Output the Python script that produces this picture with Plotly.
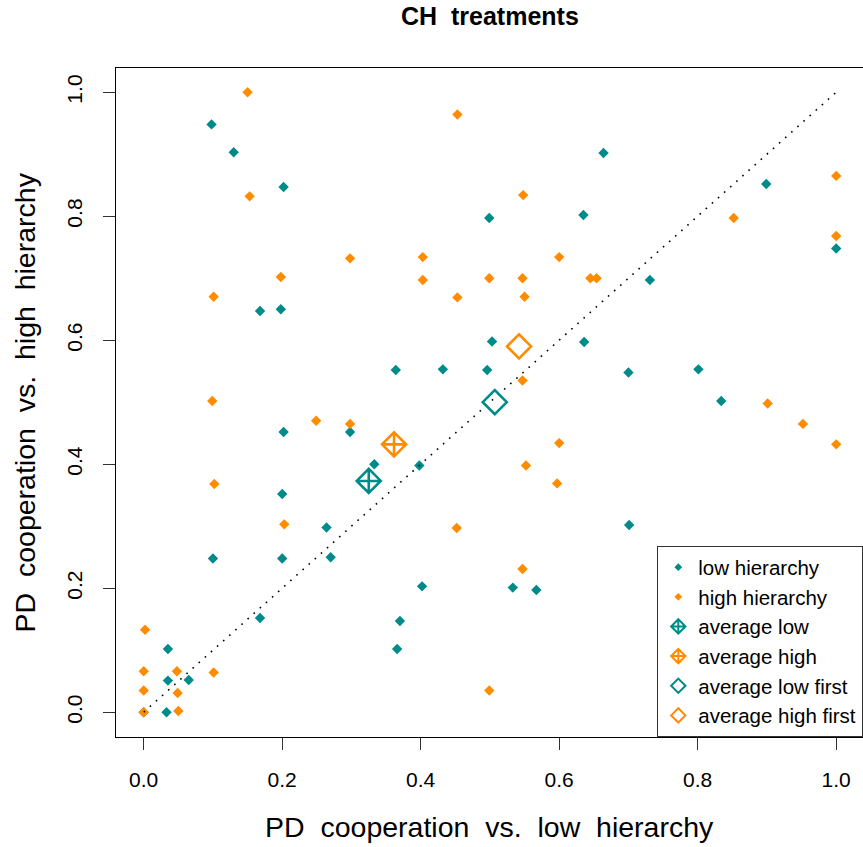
import plotly.graph_objects as go

# Low-hierarchy group: PD cooperation (x = vs. low, y = vs. high)
low_x = [0.098, 0.130, 0.202, 0.168, 0.198, 0.364, 0.432, 0.499, 0.496,
         0.664, 0.635, 0.899, 1.000, 0.731, 0.503, 0.636, 0.700, 0.801,
         0.834, 0.701, 0.533, 0.567, 0.202, 0.298, 0.200, 0.264, 0.270,
         0.333, 0.398, 0.402, 0.370, 0.366, 0.168, 0.035, 0.035, 0.065,
         0.033, 0.000, 0.100, 0.200]
low_y = [0.948, 0.903, 0.847, 0.647, 0.650, 0.552, 0.553, 0.797, 0.552,
         0.902, 0.802, 0.852, 0.748, 0.697, 0.598, 0.597, 0.548, 0.553,
         0.502, 0.302, 0.201, 0.197, 0.452, 0.452, 0.352, 0.298, 0.250,
         0.400, 0.398, 0.203, 0.147, 0.102, 0.152, 0.102, 0.051, 0.052,
         0.000, 0.000, 0.248, 0.248]

# High-hierarchy group
high_x = [0.150, 0.453, 0.153, 0.298, 0.403, 0.198, 0.403, 0.101, 0.453,
          0.499, 0.548, 1.000, 0.852, 1.000, 0.600, 0.547, 0.645, 0.654,
          0.550, 0.547, 0.901, 0.952, 1.000, 0.600, 0.552, 0.597, 0.547,
          0.499, 0.099, 0.249, 0.298, 0.102, 0.203, 0.452, 0.002, 0.000,
          0.048, 0.101, 0.000, 0.049, 0.050, 0.000]
high_y = [1.000, 0.964, 0.832, 0.732, 0.734, 0.702, 0.697, 0.670, 0.669,
          0.700, 0.834, 0.865, 0.797, 0.768, 0.734, 0.700, 0.700, 0.700,
          0.670, 0.535, 0.498, 0.465, 0.432, 0.434, 0.398, 0.369, 0.231,
          0.035, 0.502, 0.470, 0.465, 0.368, 0.303, 0.297, 0.133, 0.066,
          0.066, 0.064, 0.035, 0.031, 0.002, 0.000]

# Group averages
avg_low = (0.325, 0.373)
avg_high = (0.3615, 0.432)
avg_low_first = (0.507, 0.500)
avg_high_first = (0.542, 0.590)

diag = [0, 1]

x_ticks = [0.0, 0.2, 0.4, 0.6, 0.8, 1.0]
y_ticks = [0.0, 0.2, 0.4, 0.6, 0.8, 1.0]
tick_text = ["0.0", "0.2", "0.4", "0.6", "0.8", "1.0"]

TEAL = "#008B8B"
ORANGE = "#FF8C00"
FONT = "Liberation Sans, Arial, Helvetica, sans-serif"

fig = go.Figure()

# individual observations
fig.add_trace(go.Scatter(x=low_x, y=low_y, mode="markers", showlegend=False,
                         marker=dict(symbol="diamond", size=8, color=TEAL)))
fig.add_trace(go.Scatter(x=high_x, y=high_y, mode="markers", showlegend=False,
                         marker=dict(symbol="diamond", size=8, color=ORANGE)))

# 45-degree reference line
fig.add_trace(go.Scatter(x=diag, y=diag, mode="lines", showlegend=False,
                         line=dict(color="black", width=1.6, dash="1.6px,6.6px")))

# averages
def avg_trace(pt, symbol, color):
    return go.Scatter(x=[pt[0]], y=[pt[1]], mode="markers", showlegend=False,
                      marker=dict(symbol=symbol, size=18.5, color=color,
                                  line=dict(width=2.6, color=color)))

fig.add_trace(avg_trace(avg_low, "diamond-cross-open", TEAL))
fig.add_trace(avg_trace(avg_high, "diamond-cross-open", ORANGE))
fig.add_trace(avg_trace(avg_low_first, "diamond-open", TEAL))
fig.add_trace(avg_trace(avg_high_first, "diamond-open", ORANGE))

# legend keys
legend_items = [
    ("low hierarchy", "diamond", TEAL, 6, 0),
    ("high hierarchy", "diamond", ORANGE, 6, 0),
    ("average low", "diamond-cross-open", TEAL, 11, 2),
    ("average high", "diamond-cross-open", ORANGE, 11, 2),
    ("average low first", "diamond-open", TEAL, 11, 2),
    ("average high first", "diamond-open", ORANGE, 11, 2),
]
for name, sym, col, sz, lw in legend_items:
    fig.add_trace(go.Scatter(x=[None], y=[None], mode="markers", name=name,
                             marker=dict(symbol=sym, size=sz, color=col,
                                         line=dict(width=lw, color=col))))

axis_common = dict(
    showgrid=False, zeroline=False, showline=True, linecolor="black",
    linewidth=1.3, ticks="outside", ticklen=12, tickwidth=1.2,
    tickcolor="#333333", tickfont=dict(family=FONT, size=21, color="black"),
    ticklabelstandoff=12,
)

fig.update_layout(
    width=863, height=847,
    margin=dict(l=116, r=0, t=68, b=110),
    paper_bgcolor="white", plot_bgcolor="white",
    font=dict(family=FONT, color="black"),
    xaxis=dict(range=[-0.04, 1.0387], tickvals=x_ticks, ticktext=tick_text,
               mirror=True, **axis_common),
    yaxis=dict(range=[-0.04, 1.039], tickvals=y_ticks, ticktext=tick_text,
               tickangle=-90, **axis_common),
    legend=dict(x=1, y=0, xanchor="right", yanchor="bottom",
                bordercolor="#333333", borderwidth=1.3, bgcolor="white",
                font=dict(family=FONT, size=20.5, color="black"),
                tracegroupgap=0, itemwidth=30),
    showlegend=True,
    annotations=[
        dict(text="<b>CH  treatments</b>", xref="paper", yref="paper",
             x=0.5, y=1, yshift=52, xanchor="center", yanchor="middle",
             showarrow=False, font=dict(family=FONT, size=25, color="black")),
        dict(text="PD  cooperation  vs.  low  hierarchy", xref="paper",
             yref="paper", x=0.5, y=0, yshift=-90, xanchor="center",
             yanchor="middle", showarrow=False,
             font=dict(family=FONT, size=28.5, color="black")),
        dict(text="PD  cooperation  vs.  high  hierarchy", xref="paper",
             yref="paper", x=0, y=0.5, xshift=-92, xanchor="center",
             yanchor="middle", textangle=-90, showarrow=False,
             font=dict(family=FONT, size=28.5, color="black")),
    ],
)

fig.write_html("out.html")
